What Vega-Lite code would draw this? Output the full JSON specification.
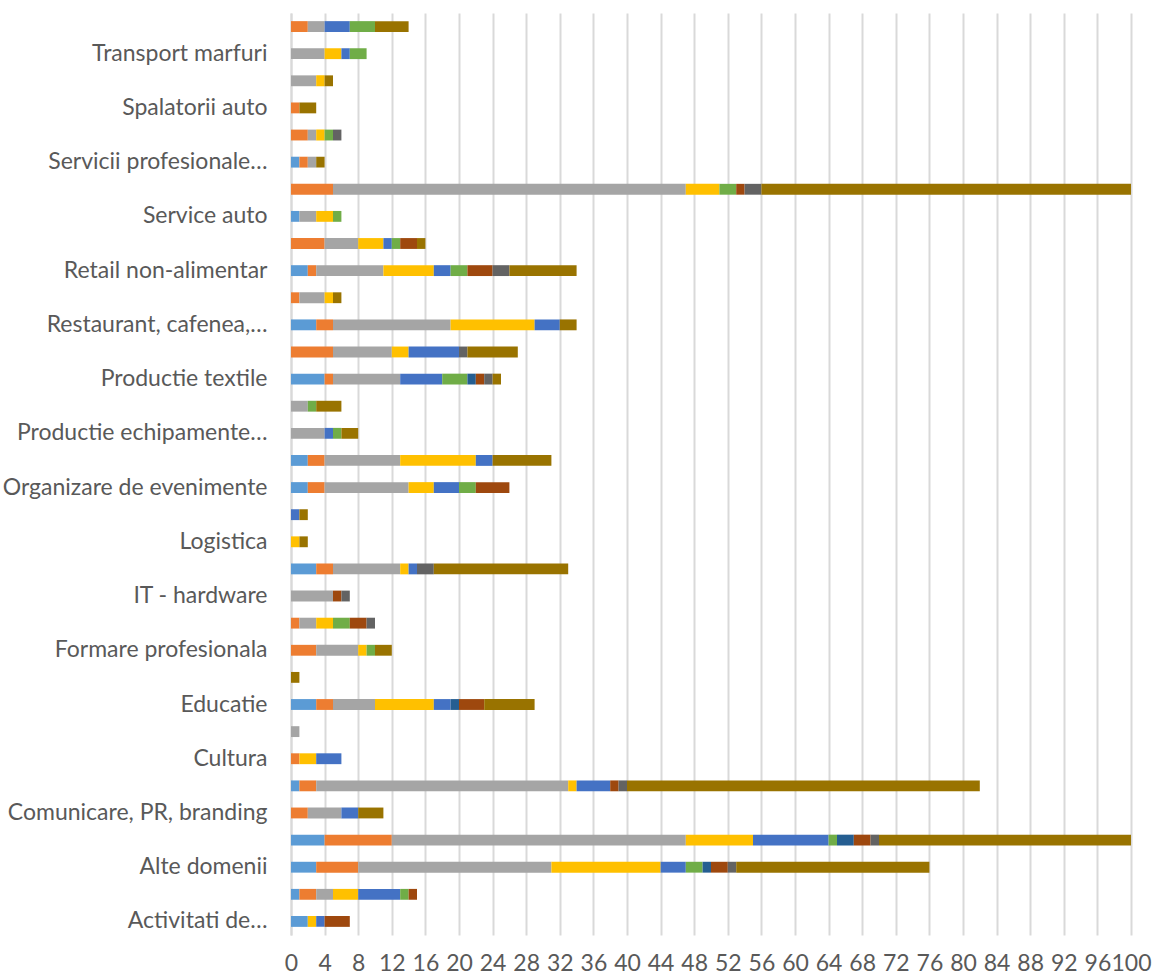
{
  "$schema": "https://vega.github.io/schema/vega-lite/v6.json",
  "autosize": {"type": "none"},
  "width": 840,
  "height": 922,
  "padding": {"left": 291, "top": 13, "right": 22, "bottom": 41},
  "background": "#ffffff",
  "config": {
    "view": {"stroke": null},
    "font": "Lato",
    "axis": {"labelFont": "Lato", "labelColor": "#595959", "labelFontSize": 23}
  },
  "data": {
    "values": [
      {"domeniu": "Turism", "serie": 2, "valoare": 2},
      {"domeniu": "Turism", "serie": 3, "valoare": 2},
      {"domeniu": "Turism", "serie": 5, "valoare": 3},
      {"domeniu": "Turism", "serie": 6, "valoare": 3},
      {"domeniu": "Turism", "serie": 10, "valoare": 4},

      {"domeniu": "Transport marfuri", "serie": 3, "valoare": 4},
      {"domeniu": "Transport marfuri", "serie": 4, "valoare": 2},
      {"domeniu": "Transport marfuri", "serie": 5, "valoare": 1},
      {"domeniu": "Transport marfuri", "serie": 6, "valoare": 2},

      {"domeniu": "Telecomunicatii", "serie": 3, "valoare": 3},
      {"domeniu": "Telecomunicatii", "serie": 4, "valoare": 1},
      {"domeniu": "Telecomunicatii", "serie": 10, "valoare": 1},

      {"domeniu": "Spalatorii auto", "serie": 2, "valoare": 1},
      {"domeniu": "Spalatorii auto", "serie": 10, "valoare": 2},

      {"domeniu": "Software", "serie": 2, "valoare": 2},
      {"domeniu": "Software", "serie": 3, "valoare": 1},
      {"domeniu": "Software", "serie": 4, "valoare": 1},
      {"domeniu": "Software", "serie": 6, "valoare": 1},
      {"domeniu": "Software", "serie": 9, "valoare": 1},

      {"domeniu": "Servicii profesionale…", "serie": 1, "valoare": 1},
      {"domeniu": "Servicii profesionale…", "serie": 2, "valoare": 1},
      {"domeniu": "Servicii profesionale…", "serie": 3, "valoare": 1},
      {"domeniu": "Servicii profesionale…", "serie": 10, "valoare": 1},

      {"domeniu": "Servicii financiare", "serie": 2, "valoare": 5},
      {"domeniu": "Servicii financiare", "serie": 3, "valoare": 42},
      {"domeniu": "Servicii financiare", "serie": 4, "valoare": 4},
      {"domeniu": "Servicii financiare", "serie": 6, "valoare": 2},
      {"domeniu": "Servicii financiare", "serie": 8, "valoare": 1},
      {"domeniu": "Servicii financiare", "serie": 9, "valoare": 2},
      {"domeniu": "Servicii financiare", "serie": 10, "valoare": 44},

      {"domeniu": "Service auto", "serie": 1, "valoare": 1},
      {"domeniu": "Service auto", "serie": 3, "valoare": 2},
      {"domeniu": "Service auto", "serie": 4, "valoare": 2},
      {"domeniu": "Service auto", "serie": 6, "valoare": 1},

      {"domeniu": "Salon de infrumusetare", "serie": 2, "valoare": 4},
      {"domeniu": "Salon de infrumusetare", "serie": 3, "valoare": 4},
      {"domeniu": "Salon de infrumusetare", "serie": 4, "valoare": 3},
      {"domeniu": "Salon de infrumusetare", "serie": 5, "valoare": 1},
      {"domeniu": "Salon de infrumusetare", "serie": 6, "valoare": 1},
      {"domeniu": "Salon de infrumusetare", "serie": 8, "valoare": 2},
      {"domeniu": "Salon de infrumusetare", "serie": 10, "valoare": 1},

      {"domeniu": "Retail non-alimentar", "serie": 1, "valoare": 2},
      {"domeniu": "Retail non-alimentar", "serie": 2, "valoare": 1},
      {"domeniu": "Retail non-alimentar", "serie": 3, "valoare": 8},
      {"domeniu": "Retail non-alimentar", "serie": 4, "valoare": 6},
      {"domeniu": "Retail non-alimentar", "serie": 5, "valoare": 2},
      {"domeniu": "Retail non-alimentar", "serie": 6, "valoare": 2},
      {"domeniu": "Retail non-alimentar", "serie": 8, "valoare": 3},
      {"domeniu": "Retail non-alimentar", "serie": 9, "valoare": 2},
      {"domeniu": "Retail non-alimentar", "serie": 10, "valoare": 8},

      {"domeniu": "Retail alimentar", "serie": 2, "valoare": 1},
      {"domeniu": "Retail alimentar", "serie": 3, "valoare": 3},
      {"domeniu": "Retail alimentar", "serie": 4, "valoare": 1},
      {"domeniu": "Retail alimentar", "serie": 10, "valoare": 1},

      {"domeniu": "Restaurant, cafenea,…", "serie": 1, "valoare": 3},
      {"domeniu": "Restaurant, cafenea,…", "serie": 2, "valoare": 2},
      {"domeniu": "Restaurant, cafenea,…", "serie": 3, "valoare": 14},
      {"domeniu": "Restaurant, cafenea,…", "serie": 4, "valoare": 10},
      {"domeniu": "Restaurant, cafenea,…", "serie": 5, "valoare": 3},
      {"domeniu": "Restaurant, cafenea,…", "serie": 10, "valoare": 2},

      {"domeniu": "Publicitate", "serie": 2, "valoare": 5},
      {"domeniu": "Publicitate", "serie": 3, "valoare": 7},
      {"domeniu": "Publicitate", "serie": 4, "valoare": 2},
      {"domeniu": "Publicitate", "serie": 5, "valoare": 6},
      {"domeniu": "Publicitate", "serie": 9, "valoare": 1},
      {"domeniu": "Publicitate", "serie": 10, "valoare": 6},

      {"domeniu": "Productie textile", "serie": 1, "valoare": 4},
      {"domeniu": "Productie textile", "serie": 2, "valoare": 1},
      {"domeniu": "Productie textile", "serie": 3, "valoare": 8},
      {"domeniu": "Productie textile", "serie": 5, "valoare": 5},
      {"domeniu": "Productie textile", "serie": 6, "valoare": 3},
      {"domeniu": "Productie textile", "serie": 7, "valoare": 1},
      {"domeniu": "Productie textile", "serie": 8, "valoare": 1},
      {"domeniu": "Productie textile", "serie": 9, "valoare": 1},
      {"domeniu": "Productie textile", "serie": 10, "valoare": 1},

      {"domeniu": "Productie mobilier", "serie": 3, "valoare": 2},
      {"domeniu": "Productie mobilier", "serie": 6, "valoare": 1},
      {"domeniu": "Productie mobilier", "serie": 10, "valoare": 3},

      {"domeniu": "Productie echipamente…", "serie": 3, "valoare": 4},
      {"domeniu": "Productie echipamente…", "serie": 5, "valoare": 1},
      {"domeniu": "Productie echipamente…", "serie": 6, "valoare": 1},
      {"domeniu": "Productie echipamente…", "serie": 10, "valoare": 2},

      {"domeniu": "Productie alimentara", "serie": 1, "valoare": 2},
      {"domeniu": "Productie alimentara", "serie": 2, "valoare": 2},
      {"domeniu": "Productie alimentara", "serie": 3, "valoare": 9},
      {"domeniu": "Productie alimentara", "serie": 4, "valoare": 9},
      {"domeniu": "Productie alimentara", "serie": 5, "valoare": 2},
      {"domeniu": "Productie alimentara", "serie": 10, "valoare": 7},

      {"domeniu": "Organizare de evenimente", "serie": 1, "valoare": 2},
      {"domeniu": "Organizare de evenimente", "serie": 2, "valoare": 2},
      {"domeniu": "Organizare de evenimente", "serie": 3, "valoare": 10},
      {"domeniu": "Organizare de evenimente", "serie": 4, "valoare": 3},
      {"domeniu": "Organizare de evenimente", "serie": 5, "valoare": 3},
      {"domeniu": "Organizare de evenimente", "serie": 6, "valoare": 2},
      {"domeniu": "Organizare de evenimente", "serie": 8, "valoare": 4},

      {"domeniu": "Marketing", "serie": 5, "valoare": 1},
      {"domeniu": "Marketing", "serie": 10, "valoare": 1},

      {"domeniu": "Logistica", "serie": 4, "valoare": 1},
      {"domeniu": "Logistica", "serie": 10, "valoare": 1},

      {"domeniu": "IT - software", "serie": 1, "valoare": 3},
      {"domeniu": "IT - software", "serie": 2, "valoare": 2},
      {"domeniu": "IT - software", "serie": 3, "valoare": 8},
      {"domeniu": "IT - software", "serie": 4, "valoare": 1},
      {"domeniu": "IT - software", "serie": 5, "valoare": 1},
      {"domeniu": "IT - software", "serie": 9, "valoare": 2},
      {"domeniu": "IT - software", "serie": 10, "valoare": 16},

      {"domeniu": "IT - hardware", "serie": 3, "valoare": 5},
      {"domeniu": "IT - hardware", "serie": 8, "valoare": 1},
      {"domeniu": "IT - hardware", "serie": 9, "valoare": 1},

      {"domeniu": "Imobiliare", "serie": 2, "valoare": 1},
      {"domeniu": "Imobiliare", "serie": 3, "valoare": 2},
      {"domeniu": "Imobiliare", "serie": 4, "valoare": 2},
      {"domeniu": "Imobiliare", "serie": 6, "valoare": 2},
      {"domeniu": "Imobiliare", "serie": 8, "valoare": 2},
      {"domeniu": "Imobiliare", "serie": 9, "valoare": 1},

      {"domeniu": "Formare profesionala", "serie": 2, "valoare": 3},
      {"domeniu": "Formare profesionala", "serie": 3, "valoare": 5},
      {"domeniu": "Formare profesionala", "serie": 4, "valoare": 1},
      {"domeniu": "Formare profesionala", "serie": 6, "valoare": 1},
      {"domeniu": "Formare profesionala", "serie": 10, "valoare": 2},

      {"domeniu": "Energie", "serie": 10, "valoare": 1},

      {"domeniu": "Educatie", "serie": 1, "valoare": 3},
      {"domeniu": "Educatie", "serie": 2, "valoare": 2},
      {"domeniu": "Educatie", "serie": 3, "valoare": 5},
      {"domeniu": "Educatie", "serie": 4, "valoare": 7},
      {"domeniu": "Educatie", "serie": 5, "valoare": 2},
      {"domeniu": "Educatie", "serie": 7, "valoare": 1},
      {"domeniu": "Educatie", "serie": 8, "valoare": 3},
      {"domeniu": "Educatie", "serie": 10, "valoare": 6},

      {"domeniu": "Design", "serie": 3, "valoare": 1},

      {"domeniu": "Cultura", "serie": 2, "valoare": 1},
      {"domeniu": "Cultura", "serie": 4, "valoare": 2},
      {"domeniu": "Cultura", "serie": 5, "valoare": 3},

      {"domeniu": "Constructii", "serie": 1, "valoare": 1},
      {"domeniu": "Constructii", "serie": 2, "valoare": 2},
      {"domeniu": "Constructii", "serie": 3, "valoare": 30},
      {"domeniu": "Constructii", "serie": 4, "valoare": 1},
      {"domeniu": "Constructii", "serie": 5, "valoare": 4},
      {"domeniu": "Constructii", "serie": 8, "valoare": 1},
      {"domeniu": "Constructii", "serie": 9, "valoare": 1},
      {"domeniu": "Constructii", "serie": 10, "valoare": 42},

      {"domeniu": "Comunicare, PR, branding", "serie": 2, "valoare": 2},
      {"domeniu": "Comunicare, PR, branding", "serie": 3, "valoare": 4},
      {"domeniu": "Comunicare, PR, branding", "serie": 5, "valoare": 2},
      {"domeniu": "Comunicare, PR, branding", "serie": 10, "valoare": 3},

      {"domeniu": "Comert", "serie": 1, "valoare": 4},
      {"domeniu": "Comert", "serie": 2, "valoare": 8},
      {"domeniu": "Comert", "serie": 3, "valoare": 35},
      {"domeniu": "Comert", "serie": 4, "valoare": 8},
      {"domeniu": "Comert", "serie": 5, "valoare": 9},
      {"domeniu": "Comert", "serie": 6, "valoare": 1},
      {"domeniu": "Comert", "serie": 7, "valoare": 2},
      {"domeniu": "Comert", "serie": 8, "valoare": 2},
      {"domeniu": "Comert", "serie": 9, "valoare": 1},
      {"domeniu": "Comert", "serie": 10, "valoare": 30},

      {"domeniu": "Alte domenii", "serie": 1, "valoare": 3},
      {"domeniu": "Alte domenii", "serie": 2, "valoare": 5},
      {"domeniu": "Alte domenii", "serie": 3, "valoare": 23},
      {"domeniu": "Alte domenii", "serie": 4, "valoare": 13},
      {"domeniu": "Alte domenii", "serie": 5, "valoare": 3},
      {"domeniu": "Alte domenii", "serie": 6, "valoare": 2},
      {"domeniu": "Alte domenii", "serie": 7, "valoare": 1},
      {"domeniu": "Alte domenii", "serie": 8, "valoare": 2},
      {"domeniu": "Alte domenii", "serie": 9, "valoare": 1},
      {"domeniu": "Alte domenii", "serie": 10, "valoare": 23},

      {"domeniu": "Agricultura", "serie": 1, "valoare": 1},
      {"domeniu": "Agricultura", "serie": 2, "valoare": 2},
      {"domeniu": "Agricultura", "serie": 3, "valoare": 2},
      {"domeniu": "Agricultura", "serie": 4, "valoare": 3},
      {"domeniu": "Agricultura", "serie": 5, "valoare": 5},
      {"domeniu": "Agricultura", "serie": 6, "valoare": 1},
      {"domeniu": "Agricultura", "serie": 8, "valoare": 1},

      {"domeniu": "Activitati de…", "serie": 1, "valoare": 2},
      {"domeniu": "Activitati de…", "serie": 4, "valoare": 1},
      {"domeniu": "Activitati de…", "serie": 5, "valoare": 1},
      {"domeniu": "Activitati de…", "serie": 8, "valoare": 3}
    ]
  },
  "mark": {"type": "bar"},
  "encoding": {
    "y": {
      "field": "domeniu",
      "type": "nominal",
      "sort": null,
      "scale": {"paddingInner": 0.6, "paddingOuter": 0.3},
      "axis": {
        "title": null,
        "ticks": false,
        "grid": false,
        "domain": true,
        "domainColor": "#d9d9d9",
        "domainWidth": 2,
        "labelPadding": 24,
        "labelLimit": 400,
        "values": [
          "Transport marfuri", "Spalatorii auto", "Servicii profesionale…", "Service auto",
          "Retail non-alimentar", "Restaurant, cafenea,…", "Productie textile",
          "Productie echipamente…", "Organizare de evenimente", "Logistica", "IT - hardware",
          "Formare profesionala", "Educatie", "Cultura", "Comunicare, PR, branding",
          "Alte domenii", "Activitati de…"
        ]
      }
    },
    "x": {
      "field": "valoare",
      "type": "quantitative",
      "aggregate": "sum",
      "stack": "zero",
      "scale": {"domain": [0, 100], "nice": false},
      "axis": {
        "title": null,
        "values": [0, 4, 8, 12, 16, 20, 24, 28, 32, 36, 40, 44, 48, 52, 56, 60, 64, 68, 72, 76, 80, 84, 88, 92, 96, 100],
        "ticks": false,
        "domain": false,
        "grid": true,
        "gridColor": "#d9d9d9",
        "gridWidth": 2,
        "labelPadding": 17,
        "labelFlush": false
      }
    },
    "color": {
      "field": "serie",
      "type": "nominal",
      "legend": null,
      "scale": {
        "domain": [1, 2, 3, 4, 5, 6, 7, 8, 9, 10],
        "range": ["#5B9BD5", "#ED7D31", "#A5A5A5", "#FFC000", "#4472C4", "#70AD47", "#255E91", "#9E480E", "#636363", "#997300"]
      }
    },
    "order": {"field": "serie", "type": "quantitative", "sort": "ascending"}
  }
}
